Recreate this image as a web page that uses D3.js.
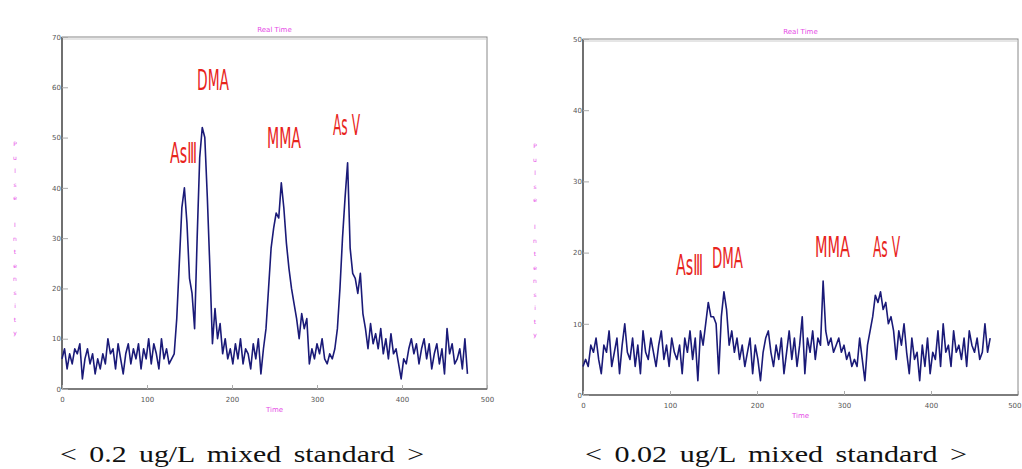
<!DOCTYPE html>
<html><head><meta charset="utf-8">
<script src="https://cdn.jsdelivr.net/npm/d3@7/dist/d3.min.js"></script>
<style>body{margin:0;background:#fff}svg{display:block}</style>
</head><body>
<svg id="c" width="1022" height="469"></svg>
<script>
// ---- data ----
const timeStep = 3;
const xTicks = [0, 100, 200, 300, 400, 500];
const yTicksLeft = [0, 10, 20, 30, 40, 50, 60, 70];
const yTicksRight = [0, 10, 20, 30, 40, 50];
const leftValues = [6,8,4,7,5,8,7,9,2,6,8,5,7,3,6,4,7,5,10,7,8,4,9,6,3,7,9,5,8,6,9,4,8,6,10,5,9,7,4,10,6,8,5,6,7,14,25,36,40,33,22,19,12,30,46,52,50,38,24,9,16,10,13,7,10,6,8,5,9,6,10,5,8,7,4,9,6,10,3,8,12,20,28,32,35,34,41,36,29,24,20,17,14,10,15,12,14,5,8,6,9,7,10,6,5,7,6,8,12,20,30,38,45,28,23,22,19,23,15,12,8,13,9,11,8,12,7,10,6,11,7,8,5,2,6,5,8,10,7,9,5,8,10,6,9,4,7,9,5,8,3,12,7,9,5,6,8,4,10,3];
const rightValues = [4,5,4,7,6,8,5,3,7,6,9,4,6,8,3,7,10,6,5,8,4,7,3,9,6,5,8,6,4,7,9,5,7,4,8,6,5,7,3,8,6,9,5,8,2,9,7,10,13,11,11,10,3,11,14.5,12,7,9,6,8,5,7,4,6,8,3,7,5,2,6,8,9,6,4,7,5,8,3,6,9,5,8,4,7,11,3,8,6,9,5,8,7,16,9,7,8,6,7,8,6,7,5,6,4,5,4,8,5,2,7,9,11,14,13,14.5,12,13,10,11,9,5,9,7,10,6,3,8,5,6,2,7,4,8,3,6,5,9,4,10,6,7,4,9,6,7,5,8,4,9,7,6,8,5,6,10,6,8];
const leftLabels = [
  {name:"AsⅢ", x:170, y:163, w:27},
  {name:"DMA", x:197, y:90, w:32},
  {name:"MMA", x:267, y:148, w:34},
  {name:"As V", x:333, y:135, w:27}
];
const rightLabels = [
  {name:"AsⅢ", x:676, y:275, w:27},
  {name:"DMA", x:712, y:268, w:31},
  {name:"MMA", x:815, y:257, w:35},
  {name:"As V", x:873, y:257, w:27}
];
const captions = ["< 0.2 ug/L mixed standard >", "< 0.02 ug/L mixed standard >"];

const svg = d3.select("#c");
const magenta = "#e64ce6";

function panel(cfg){
  const x = d3.scaleLinear().domain([0,500]).range([cfg.x0, cfg.x1]);
  const y = d3.scaleLinear().domain([0,cfg.ymax]).range([cfg.y1, cfg.y0]);
  const g = svg.append("g");
  // frame
  g.append("rect").attr("x",cfg.x0).attr("y",cfg.y0).attr("width",cfg.x1-cfg.x0).attr("height",cfg.y1-cfg.y0)
    .attr("fill","none").attr("stroke","#888").attr("stroke-width",1);
  g.append("line").attr("x1",cfg.x0).attr("x2",cfg.x1).attr("y1",cfg.y0+2).attr("y2",cfg.y0+2).attr("stroke","#ccc");
  g.append("line").attr("x1",cfg.x0).attr("x2",cfg.x0).attr("y1",cfg.y0).attr("y2",cfg.y1).attr("stroke","#444").attr("stroke-width",1.3);
  g.append("line").attr("x1",cfg.x0).attr("x2",cfg.x1).attr("y1",cfg.y1).attr("y2",cfg.y1).attr("stroke","#666").attr("stroke-width",1.3);
  // axes
  const ya = g.append("g").attr("transform",`translate(${cfg.x0},0)`)
    .call(d3.axisRight(y).tickValues(cfg.yticks).tickSize(6).tickFormat(d3.format("d")));
  ya.select(".domain").remove();
  ya.selectAll("line").attr("stroke","#aaa");
  ya.selectAll("text").attr("x",-1).attr("text-anchor","end").attr("fill","#555")
    .style("font","7px 'DejaVu Sans', sans-serif");
  const xa = g.append("g").attr("transform",`translate(0,${cfg.y1})`)
    .call(d3.axisTop(x).tickValues(xTicks).tickSize(4).tickFormat(d3.format("d")));
  xa.select(".domain").remove();
  xa.selectAll("line").attr("stroke","#aaa");
  xa.selectAll("text").attr("y",13).attr("dy",0).attr("fill","#555")
    .style("font","7px 'DejaVu Sans', sans-serif");
  if(cfg.lastEnd) xa.selectAll("text").filter(d=>d===500).attr("text-anchor","end").attr("x",3);
  // line
  const line = d3.line().x((d,i)=>x(i*timeStep)).y(d=>y(d));
  g.append("path").datum(cfg.values).attr("d",line).attr("fill","none")
    .attr("stroke","#1a1a78").attr("stroke-width",1.6).attr("stroke-linejoin","round");
  // titles
  g.append("text").attr("x",(cfg.x0+cfg.x1)/2).attr("y",cfg.y0-5).attr("text-anchor","middle")
    .attr("fill",magenta).style("font","7px 'DejaVu Sans', sans-serif").text("Real Time");
  g.append("text").attr("x",(cfg.x0+cfg.x1)/2).attr("y",cfg.y1+23).attr("text-anchor","middle")
    .attr("fill",magenta).style("font","7px 'DejaVu Sans', sans-serif").text("Time");
  const ylab = "Pulse Intensity".split("");
  g.append("g").selectAll("text").data(ylab).join("text")
    .attr("x",cfg.ylx).attr("y",(d,i)=>cfg.yly+i*13.5).attr("text-anchor","middle")
    .attr("fill",magenta).style("font","6px 'DejaVu Sans', sans-serif").text(d=>d);
  // peak labels
  cfg.labels.forEach(l=>{
    g.append("text").attr("x",l.x).attr("y",l.y).attr("fill","#e8241c")
      .attr("textLength",l.w).attr("lengthAdjust","spacingAndGlyphs")
      .style("font","29px 'Liberation Sans Narrow','DejaVu Sans Condensed',sans-serif")
      .text(l.name);
  });
  // caption
  svg.append("text").attr("x",cfg.capx).attr("y",462).attr("fill","#111")
    .attr("word-spacing",4)
    .attr("textLength",cfg.capw).attr("lengthAdjust","spacingAndGlyphs")
    .style("font","24px 'Liberation Serif','DejaVu Serif',serif").text(cfg.caption);
}

panel({x0:62,x1:487,y0:37,y1:389,ymax:70,yticks:yTicksLeft,values:leftValues,labels:leftLabels,
  ylx:15,yly:146,capx:60,capw:364,caption:captions[0]});
panel({x0:583,x1:1018,y0:39,y1:395,ymax:50,yticks:yTicksRight,values:rightValues,labels:rightLabels,
  ylx:535,yly:148,capx:585,capw:382,caption:captions[1],lastEnd:true});
</script>
</body></html>
